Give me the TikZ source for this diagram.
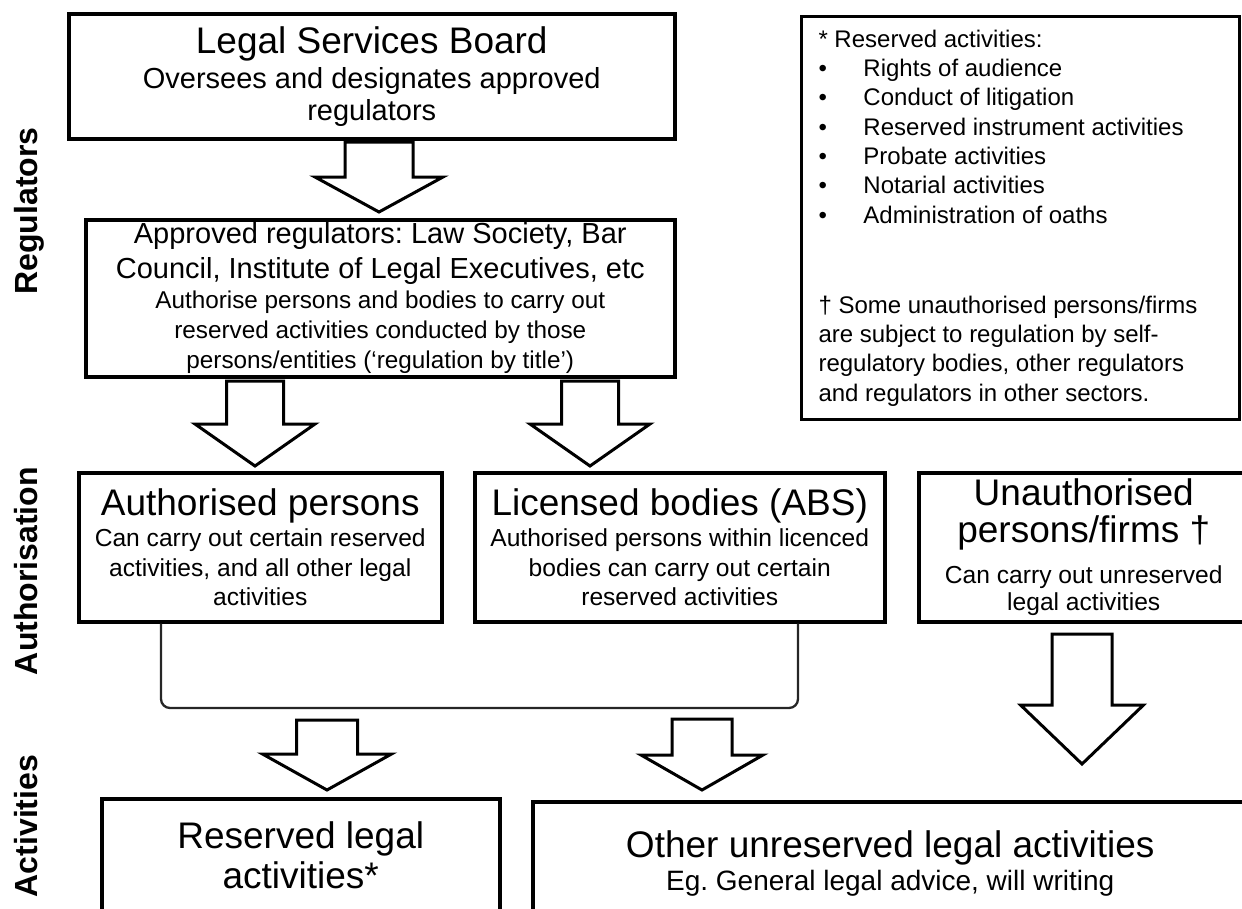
\documentclass[tikz,border=0pt]{standalone}
\usepackage{fontspec}
\setmainfont{Liberation Sans}
\usetikzlibrary{calc}
% font size helper: size and baseline skip in pt, with a normal word space
\newcommand\setfs[2]{\fontsize{#1}{#2}\selectfont
  \spaceskip=0.278em plus 0.1em minus 0.05em\relax}
% centred block of lines inside a box
\newcommand\boxtext[2]{\begin{minipage}{#1}\frenchspacing\centering #2\end{minipage}}
% hollow block arrow: centre x, shaft top, head base, tip, half shaft, half head
\newcommand\blockarrow[6]{%
  \draw[barrow] (#1-#5,#2) -- (#1+#5,#2) -- (#1+#5,#3) -- (#1+#6,#3)
    -- (#1,#4) -- (#1-#6,#3) -- (#1-#5,#3) -- cycle;}
\begin{document}
\begin{tikzpicture}[x=1pt,y=-1pt,
  box/.style={draw=black, line width=3.5pt, anchor=north west, inner sep=0pt, text=black},
  notebox/.style={draw=black, line width=3pt, anchor=north west, inner sep=0pt, text=black},
  barrow/.style={draw=black, line width=3pt, fill=white, line join=miter},
  bracket/.style={draw=black!85, line width=2.3pt, rounded corners=9pt},
  side/.style={rotate=90, anchor=base, font=\bfseries\setfs{32}{36}}]
\useasboundingbox (0,0) rectangle (1242,908);
\clip (0,0) rectangle (1242,908);

% row labels
\node[side] (lreg) at (37,211) {Regulators};
\node[side] (laut) at (37,571) {Authorisation};
\node[side] (lact) at (37,826) {Activities};

% regulators
\node[box, minimum width=606pt, minimum height=125pt] (lsb) at (67,12)
  {\boxtext{590pt}{\setfs{37}{40}Legal Services Board\par\vspace{3pt}%
   \setfs{29}{32}Oversees and designates approved\\regulators}};
\node[box, minimum width=589pt, minimum height=157pt] (ar) at (84,218)
  {\boxtext{575pt}{\setfs{29}{35}Approved regulators: Law Society, Bar\\Council, Institute of Legal Executives, etc\par
   \setfs{24.3}{30}Authorise persons and bodies to carry out\\reserved activities conducted by those\\persons/entities (‘regulation by title’)}};

% notes
\node[notebox, minimum width=438pt, minimum height=403pt] (notes) at (800,15)
  {\begin{minipage}{404pt}\raggedright\frenchspacing\setfs{24}{29.3}%
   * Reserved activities:\\
   \makebox[45pt][l]{\textbullet}Rights of audience\\
   \makebox[45pt][l]{\textbullet}Conduct of litigation\\
   \makebox[45pt][l]{\textbullet}Reserved instrument activities\\
   \makebox[45pt][l]{\textbullet}Probate activities\\
   \makebox[45pt][l]{\textbullet}Notarial activities\\
   \makebox[45pt][l]{\textbullet}Administration of oaths\par
   \vspace{60.7pt}%
   † Some unauthorised persons/firms\\are subject to regulation by self-\\regulatory bodies, other regulators\\and regulators in other sectors.
   \end{minipage}};

% authorisation
\node[box, minimum width=363pt, minimum height=149pt] (ap) at (77,471)
  {\boxtext{350pt}{\setfs{37}{40}Authorised persons\par\vspace{2pt}%
   \setfs{24.6}{29.5}Can carry out certain reserved\\activities, and all other legal\\activities}};
\node[box, minimum width=410pt, minimum height=149pt] (lb) at (473,471)
  {\boxtext{396pt}{\setfs{37}{40}Licensed bodies (ABS)\par\vspace{2pt}%
   \setfs{24.6}{29.5}Authorised persons within licenced\\bodies can carry out certain\\reserved activities}};
\node[box, minimum width=330pt, minimum height=149pt] (ua) at (917,471)
  {\boxtext{320pt}{\setfs{37}{37}Unauthorised\\persons/firms †\par\vspace{14pt}%
   \setfs{24.6}{27}Can carry out unreserved\\legal activities}};

% activities
\node[box, minimum width=398pt, minimum height=114pt] (rs) at (100,797)
  {\boxtext{380pt}{\setfs{37}{40}Reserved legal\\activities*}};
\node[box, minimum width=715pt, minimum height=123pt] (ou) at (531,800)
  {\boxtext{700pt}{\setfs{37}{40}Other unreserved legal activities\par
   \setfs{28}{33}Eg. General legal advice, will writing}};

% block arrows
\blockarrow{379}{142}{177}{212}{34}{64}
\blockarrow{255}{381}{424}{466}{28.5}{60}
\blockarrow{590}{381}{424}{466}{28.5}{60}
\blockarrow{1082}{634}{705}{764}{30}{61.5}
\blockarrow{327}{720}{754}{790}{30.5}{64.5}
\blockarrow{702}{719}{755}{790}{30}{61}

% bracket joining the two authorised groups
\coordinate (bkl) at (161,708);
\coordinate (bkr) at (798,708);
\draw[bracket] (bkl |- ap.south) -- (bkl) -- (bkr) -- (bkr |- lb.south);
\end{tikzpicture}
\end{document}
